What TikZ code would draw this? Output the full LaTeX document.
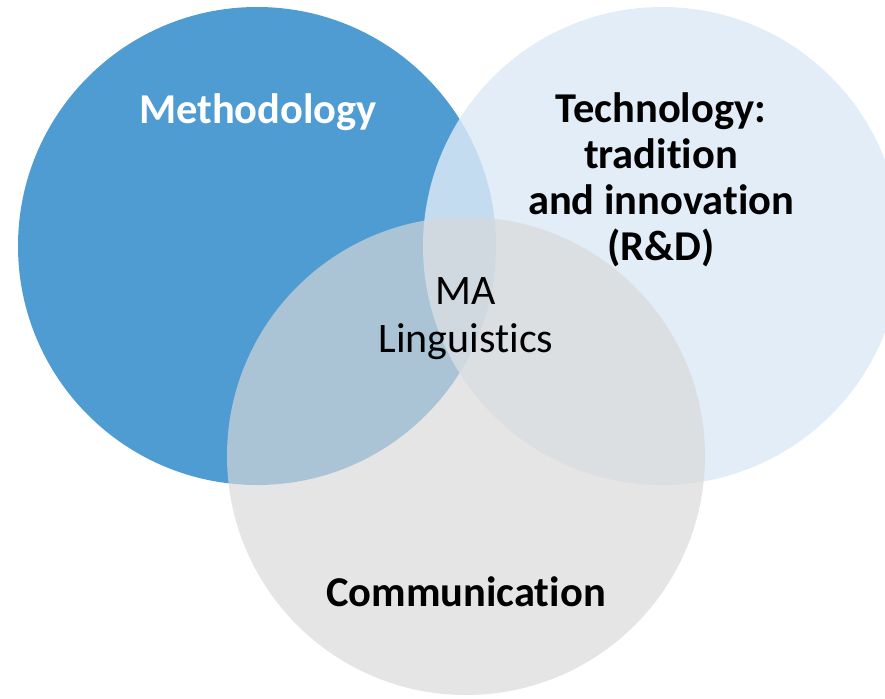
\documentclass[tikz,border=0pt]{standalone}
\usepackage{fontspec}
\setmainfont{Carlito}[Ligatures=CommonOff]
\definecolor{methblue}{RGB}{79,156,211}
\definecolor{techblue}{RGB}{220,233,246}
\definecolor{commgrey}{RGB}{216,216,216}
\begin{document}
\begin{tikzpicture}[x=1pt,y=-1pt,
  venn/.style={circle,minimum size=478pt,inner sep=0pt,draw=none},
  label/.style={font=\fontsize{42.5}{46}\selectfont\bfseries,align=center,inner sep=0pt,anchor=base},
  centre/.style={font=\fontsize{42}{48}\selectfont,align=center,inner sep=0pt,anchor=base}]
\useasboundingbox (0,0) rectangle (885,698);
\begin{scope}
\clip (0,0) rectangle (885,698);
\node[venn,fill=methblue] (meth) at (257,246) {};
\node[venn,fill=techblue,fill opacity=0.83] (tech) at (662,246) {};
\node[venn,fill=commgrey,fill opacity=0.665] (comm) at (466,456) {};
\end{scope}
\node[label,text=white] (methlabel) at (258,123) {Methodology};
\node[label] (techlabel) at (661,260) {Technology:\\tradition\\and innovation\\(R\&D)};
\node[centre] (centrelabel) at (466,352) {MA\\Linguistics};
\node[label] (commlabel) at (466,606) {Communication};
\end{tikzpicture}
\end{document}
